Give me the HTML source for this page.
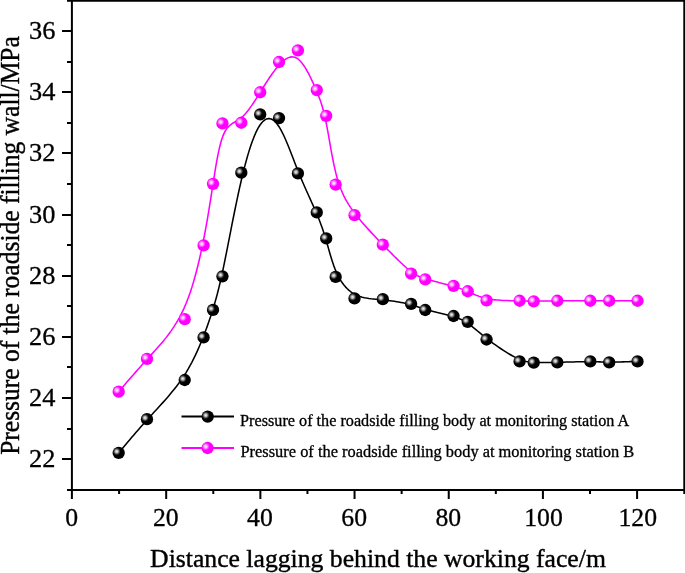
<!DOCTYPE html>
<html><head><meta charset="utf-8"><title>chart</title><style>html,body{margin:0;padding:0;background:#fff}body{width:685px;height:573px;position:relative;overflow:hidden}</style></head><body>
<svg width="685" height="573" viewBox="0 0 685 573" style="position:absolute;left:0;top:0">
<defs>
<radialGradient id="gk" cx="0.34" cy="0.39" r="0.31" fx="0.34" fy="0.39">
<stop offset="0" stop-color="#f4f4f4"/><stop offset="0.35" stop-color="#bcbcbc"/><stop offset="0.7" stop-color="#484848"/><stop offset="1" stop-color="#000"/>
</radialGradient>
<radialGradient id="gm" cx="0.35" cy="0.38" r="0.31" fx="0.35" fy="0.38">
<stop offset="0" stop-color="#fff6ff"/><stop offset="0.35" stop-color="#ffc0ff"/><stop offset="0.7" stop-color="#ff50ff"/><stop offset="1" stop-color="#ff00ff"/>
</radialGradient>
</defs>
<g stroke="#000" stroke-width="2" fill="none" stroke-linecap="butt">
<path d="M67 0.75 H685 M684.3 0 V494 M67 490.0 H685 M71.9 0 V499"/>
<path d="M62 459.00 H72 M67 429.00 H72 M62 398.00 H72 M67 367.00 H72 M62 337.00 H72 M67 306.00 H72 M62 276.00 H72 M67 245.00 H72 M62 215.00 H72 M67 184.00 H72 M62 153.00 H72 M67 123.00 H72 M62 92.00 H72 M67 62.00 H72 M62 31.00 H72 M119.09 490.0 V494 M166.18 490.0 V499 M213.28 490.0 V494 M260.37 490.0 V499 M307.46 490.0 V494 M354.55 490.0 V499 M401.64 490.0 V494 M448.74 490.0 V499 M495.83 490.0 V494 M542.92 490.0 V499 M590.01 490.0 V494 M637.10 490.0 V499 "/>
</g>
<g font-family="'Liberation Serif', serif" font-size="26.4" fill="#000" stroke="#000" stroke-width="0.4">
<text transform="translate(55.4 466.85) scale(1.043 1)" text-anchor="end" font-size="25.3" stroke-width="0.3">22</text>
<text transform="translate(55.4 405.85) scale(1.043 1)" text-anchor="end" font-size="25.3" stroke-width="0.3">24</text>
<text transform="translate(55.4 344.85) scale(1.043 1)" text-anchor="end" font-size="25.3" stroke-width="0.3">26</text>
<text transform="translate(55.4 283.85) scale(1.043 1)" text-anchor="end" font-size="25.3" stroke-width="0.3">28</text>
<text transform="translate(55.4 222.85) scale(1.043 1)" text-anchor="end" font-size="25.3" stroke-width="0.3">30</text>
<text transform="translate(55.4 160.85) scale(1.043 1)" text-anchor="end" font-size="25.3" stroke-width="0.3">32</text>
<text transform="translate(55.4 99.85) scale(1.043 1)" text-anchor="end" font-size="25.3" stroke-width="0.3">34</text>
<text transform="translate(55.4 38.85) scale(1.043 1)" text-anchor="end" font-size="25.3" stroke-width="0.3">36</text>
<text transform="translate(71.60 526.2) scale(0.99 1)" text-anchor="middle" font-size="26" stroke-width="0.3">0</text>
<text transform="translate(165.78 526.2) scale(0.99 1)" text-anchor="middle" font-size="26" stroke-width="0.3">20</text>
<text transform="translate(259.97 526.2) scale(0.99 1)" text-anchor="middle" font-size="26" stroke-width="0.3">40</text>
<text transform="translate(354.15 526.2) scale(0.99 1)" text-anchor="middle" font-size="26" stroke-width="0.3">60</text>
<text transform="translate(448.34 526.2) scale(0.99 1)" text-anchor="middle" font-size="26" stroke-width="0.3">80</text>
<text transform="translate(543.52 526.2) scale(0.99 1)" text-anchor="middle" font-size="26" stroke-width="0.3">100</text>
<text transform="translate(637.70 526.2) scale(0.99 1)" text-anchor="middle" font-size="26" stroke-width="0.3">120</text>
<text x="378" y="567.3" text-anchor="middle" font-size="25.7">Distance lagging behind the working face/m</text>
<text transform="translate(19.3 245.5) rotate(-90) scale(0.9385 1)" text-anchor="middle" font-size="27.2">Pressure of the roadside filling wall/MPa</text>
</g>
<path d="M118.69 391.65 L118.69 391.64 L118.71 391.62 L118.77 391.56 L118.87 391.44 L119.03 391.25 L119.28 390.96 L119.63 390.56 L120.09 390.02 L120.68 389.34 L121.42 388.48 L122.32 387.43 L123.41 386.17 L124.68 384.70 L126.15 383.00 L127.78 381.11 L129.58 379.04 L131.53 376.80 L133.63 374.41 L135.85 371.87 L138.20 369.22 L140.65 366.46 L143.21 363.60 L145.85 360.67 L148.56 357.68 L151.34 354.63 L154.17 351.52 L157.04 348.32 L159.92 345.04 L162.80 341.64 L165.66 338.12 L168.49 334.45 L171.27 330.63 L173.99 326.63 L176.62 322.45 L179.16 318.05 L181.58 313.44 L183.87 308.60 L186.04 303.54 L188.09 298.31 L190.02 292.91 L191.85 287.39 L193.57 281.77 L195.19 276.07 L196.72 270.32 L198.16 264.55 L199.52 258.78 L200.80 253.05 L202.02 247.37 L203.16 241.78 L204.25 236.26 L205.28 230.82 L206.27 225.45 L207.21 220.13 L208.11 214.87 L208.98 209.65 L209.82 204.48 L210.64 199.33 L211.44 194.22 L212.23 189.12 L213.02 184.04 L213.81 178.97 L214.60 173.94 L215.40 168.99 L216.22 164.14 L217.07 159.44 L217.93 154.92 L218.84 150.60 L219.78 146.53 L220.76 142.74 L221.79 139.27 L222.88 136.14 L224.03 133.39 L225.24 131.04 L226.51 129.05 L227.83 127.38 L229.21 125.96 L230.63 124.76 L232.08 123.70 L233.57 122.76 L235.09 121.86 L236.63 120.97 L238.18 120.02 L239.75 118.97 L241.32 117.77 L242.89 116.37 L244.46 114.78 L246.04 113.02 L247.61 111.10 L249.18 109.05 L250.75 106.88 L252.33 104.60 L253.90 102.24 L255.47 99.81 L257.04 97.33 L258.61 94.82 L260.19 92.29 L261.76 89.76 L263.33 87.25 L264.90 84.76 L266.47 82.29 L268.05 79.88 L269.62 77.52 L271.19 75.22 L272.76 73.00 L274.34 70.87 L275.91 68.83 L277.48 66.91 L279.05 65.10 L280.62 63.42 L282.20 61.89 L283.77 60.53 L285.34 59.35 L286.91 58.38 L288.49 57.63 L290.06 57.13 L291.63 56.89 L293.20 56.93 L294.77 57.27 L296.35 57.93 L297.92 58.92 L299.49 60.27 L301.06 61.93 L302.61 63.87 L304.15 66.06 L305.67 68.45 L307.15 71.01 L308.61 73.70 L310.03 76.48 L311.40 79.31 L312.73 82.16 L314.00 84.99 L315.21 87.76 L316.36 90.44 L317.45 93.06 L318.48 95.65 L319.46 98.24 L320.40 100.86 L321.30 103.55 L322.17 106.34 L323.01 109.27 L323.83 112.36 L324.64 115.65 L325.43 119.18 L326.22 122.97 L327.00 127.05 L327.80 131.38 L328.60 135.91 L329.42 140.61 L330.26 145.41 L331.13 150.28 L332.03 155.17 L332.97 160.02 L333.95 164.80 L334.99 169.45 L336.07 173.94 L337.22 178.20 L338.43 182.21 L339.71 185.98 L341.05 189.52 L342.46 192.87 L343.94 196.03 L345.48 199.04 L347.08 201.91 L348.75 204.66 L350.49 207.33 L352.29 209.92 L354.16 212.46 L356.09 214.97 L358.08 217.48 L360.14 219.97 L362.25 222.46 L364.41 224.94 L366.62 227.42 L368.86 229.89 L371.14 232.35 L373.44 234.81 L375.76 237.27 L378.11 239.71 L380.46 242.15 L382.81 244.59 L385.17 247.02 L387.52 249.43 L389.85 251.82 L392.16 254.15 L394.44 256.44 L396.67 258.65 L398.85 260.78 L400.98 262.81 L403.04 264.74 L405.03 266.54 L406.94 268.22 L408.76 269.74 L410.48 271.11 L412.12 272.33 L413.69 273.42 L415.22 274.40 L416.71 275.26 L418.19 276.04 L419.66 276.73 L421.16 277.37 L422.68 277.95 L424.26 278.49 L425.90 279.02 L427.62 279.53 L429.44 280.04 L431.33 280.56 L433.30 281.08 L435.31 281.60 L437.35 282.12 L439.41 282.63 L441.47 283.15 L443.52 283.67 L445.53 284.18 L447.49 284.69 L449.39 285.19 L451.20 285.68 L452.92 286.17 L454.56 286.66 L456.12 287.14 L457.61 287.63 L459.05 288.12 L460.44 288.62 L461.80 289.12 L463.14 289.64 L464.47 290.17 L465.80 290.72 L467.14 291.30 L468.50 291.89 L469.89 292.51 L471.32 293.15 L472.80 293.80 L474.32 294.45 L475.90 295.10 L477.54 295.74 L479.24 296.37 L481.02 296.96 L482.87 297.53 L484.80 298.05 L486.82 298.53 L488.94 298.96 L491.14 299.32 L493.43 299.63 L495.78 299.89 L498.16 300.10 L500.57 300.27 L502.99 300.41 L505.38 300.51 L507.74 300.60 L510.05 300.66 L512.28 300.71 L514.42 300.75 L516.45 300.79 L518.35 300.82 L520.14 300.86 L521.83 300.90 L523.44 300.94 L524.98 300.98 L526.47 301.02 L527.93 301.05 L529.37 301.08 L530.82 301.10 L532.28 301.12 L533.77 301.13 L535.31 301.14 L536.92 301.13 L538.59 301.12 L540.33 301.10 L542.13 301.08 L543.99 301.05 L545.93 301.02 L547.92 300.99 L549.99 300.96 L552.12 300.93 L554.31 300.89 L556.57 300.86 L558.90 300.84 L561.28 300.81 L563.73 300.79 L566.20 300.78 L568.71 300.77 L571.22 300.76 L573.73 300.75 L576.23 300.74 L578.69 300.74 L581.12 300.74 L583.48 300.74 L585.77 300.74 L587.98 300.74 L590.10 300.74 L592.13 300.74 L594.09 300.74 L595.99 300.74 L597.85 300.74 L599.67 300.74 L601.49 300.74 L603.30 300.74 L605.12 300.74 L606.96 300.74 L608.84 300.74 L610.78 300.74 L612.77 300.74 L614.81 300.74 L616.87 300.74 L618.93 300.74 L620.97 300.74 L622.96 300.74 L624.89 300.74 L626.73 300.74 L628.46 300.74 L630.07 300.74 L631.51 300.74 L632.79 300.74 L633.87 300.74 L634.77 300.74 L635.51 300.74 L636.11 300.74 L636.57 300.74 L636.91 300.74 L637.16 300.74 L637.33 300.74 L637.43 300.74 L637.48 300.74 L637.50 300.74 L637.50 300.74" fill="none" stroke="#ff00ff" stroke-width="1.55" stroke-linejoin="round"/>
<circle cx="118.69" cy="391.65" r="6.15" fill="url(#gm)"/>
<circle cx="146.99" cy="358.82" r="6.15" fill="url(#gm)"/>
<circle cx="184.72" cy="319.13" r="6.15" fill="url(#gm)"/>
<circle cx="203.59" cy="245.31" r="6.15" fill="url(#gm)"/>
<circle cx="213.02" cy="183.87" r="6.15" fill="url(#gm)"/>
<circle cx="222.45" cy="123.43" r="6.15" fill="url(#gm)"/>
<circle cx="241.32" cy="122.73" r="6.15" fill="url(#gm)"/>
<circle cx="260.19" cy="92.26" r="6.15" fill="url(#gm)"/>
<circle cx="279.05" cy="61.99" r="6.15" fill="url(#gm)"/>
<circle cx="297.92" cy="50.36" r="6.15" fill="url(#gm)"/>
<circle cx="316.78" cy="90.10" r="6.15" fill="url(#gm)"/>
<circle cx="326.22" cy="115.79" r="6.15" fill="url(#gm)"/>
<circle cx="335.65" cy="184.57" r="6.15" fill="url(#gm)"/>
<circle cx="354.52" cy="215.14" r="6.15" fill="url(#gm)"/>
<circle cx="382.81" cy="244.71" r="6.15" fill="url(#gm)"/>
<circle cx="411.11" cy="273.57" r="6.15" fill="url(#gm)"/>
<circle cx="425.26" cy="279.44" r="6.15" fill="url(#gm)"/>
<circle cx="453.56" cy="285.85" r="6.15" fill="url(#gm)"/>
<circle cx="467.71" cy="291.27" r="6.15" fill="url(#gm)"/>
<circle cx="486.58" cy="300.44" r="6.15" fill="url(#gm)"/>
<circle cx="519.59" cy="300.74" r="6.15" fill="url(#gm)"/>
<circle cx="533.74" cy="301.34" r="6.15" fill="url(#gm)"/>
<circle cx="557.32" cy="300.74" r="6.15" fill="url(#gm)"/>
<circle cx="590.34" cy="300.74" r="6.15" fill="url(#gm)"/>
<circle cx="609.21" cy="300.74" r="6.15" fill="url(#gm)"/>
<circle cx="637.50" cy="300.74" r="6.15" fill="url(#gm)"/>

<path d="M118.69 452.79 L118.69 452.78 L118.71 452.76 L118.77 452.70 L118.87 452.58 L119.03 452.38 L119.28 452.09 L119.63 451.67 L120.09 451.13 L120.68 450.42 L121.42 449.54 L122.32 448.47 L123.41 447.18 L124.68 445.67 L126.15 443.93 L127.78 442.00 L129.58 439.88 L131.53 437.60 L133.63 435.16 L135.85 432.58 L138.20 429.89 L140.65 427.09 L143.21 424.21 L145.85 421.25 L148.56 418.24 L151.34 415.19 L154.17 412.10 L157.04 408.98 L159.92 405.82 L162.80 402.63 L165.66 399.40 L168.49 396.15 L171.27 392.86 L173.99 389.55 L176.62 386.20 L179.16 382.84 L181.58 379.44 L183.87 376.03 L186.04 372.60 L188.09 369.16 L190.02 365.74 L191.85 362.34 L193.57 358.96 L195.19 355.63 L196.72 352.34 L198.16 349.12 L199.52 345.97 L200.80 342.91 L202.02 339.93 L203.16 337.06 L204.25 334.28 L205.28 331.59 L206.27 328.96 L207.21 326.38 L208.11 323.85 L208.98 321.35 L209.82 318.87 L210.64 316.39 L211.44 313.91 L212.23 311.42 L213.02 308.89 L213.81 306.31 L214.60 303.66 L215.40 300.89 L216.22 297.96 L217.07 294.85 L217.93 291.51 L218.84 287.90 L219.78 283.99 L220.76 279.75 L221.79 275.13 L222.88 270.09 L224.03 264.61 L225.24 258.66 L226.51 252.29 L227.83 245.57 L229.21 238.56 L230.63 231.33 L232.08 223.95 L233.57 216.48 L235.09 209.00 L236.63 201.56 L238.18 194.24 L239.75 187.10 L241.32 180.21 L242.89 173.62 L244.46 167.36 L246.04 161.44 L247.61 155.86 L249.18 150.63 L250.75 145.76 L252.33 141.27 L253.90 137.16 L255.47 133.44 L257.04 130.12 L258.61 127.22 L260.19 124.73 L261.76 122.67 L263.33 121.04 L264.90 119.83 L266.47 119.02 L268.05 118.63 L269.62 118.63 L271.19 119.03 L272.76 119.81 L274.34 120.98 L275.91 122.52 L277.48 124.44 L279.05 126.72 L280.62 129.35 L282.20 132.30 L283.77 135.53 L285.34 139.01 L286.91 142.68 L288.49 146.51 L290.06 150.47 L291.63 154.51 L293.20 158.59 L294.77 162.68 L296.35 166.73 L297.92 170.71 L299.49 174.58 L301.06 178.34 L302.61 181.99 L304.15 185.53 L305.67 188.97 L307.15 192.30 L308.61 195.53 L310.03 198.67 L311.40 201.70 L312.73 204.64 L314.00 207.49 L315.21 210.24 L316.36 212.91 L317.45 215.50 L318.48 218.03 L319.46 220.52 L320.40 222.97 L321.30 225.41 L322.17 227.85 L323.01 230.30 L323.83 232.78 L324.64 235.30 L325.43 237.88 L326.22 240.52 L327.00 243.25 L327.80 246.05 L328.60 248.89 L329.42 251.78 L330.26 254.68 L331.13 257.58 L332.03 260.46 L332.97 263.32 L333.95 266.12 L334.99 268.86 L336.07 271.51 L337.22 274.06 L338.43 276.50 L339.71 278.82 L341.05 281.01 L342.46 283.08 L343.94 285.03 L345.48 286.85 L347.08 288.53 L348.75 290.09 L350.49 291.51 L352.29 292.79 L354.16 293.93 L356.09 294.93 L358.08 295.79 L360.14 296.53 L362.25 297.14 L364.41 297.66 L366.62 298.09 L368.86 298.44 L371.14 298.74 L373.44 298.99 L375.76 299.22 L378.11 299.43 L380.46 299.63 L382.81 299.85 L385.17 300.09 L387.52 300.36 L389.85 300.65 L392.16 300.97 L394.44 301.30 L396.67 301.66 L398.85 302.03 L400.98 302.43 L403.04 302.83 L405.03 303.25 L406.94 303.69 L408.76 304.13 L410.48 304.59 L412.12 305.05 L413.69 305.52 L415.22 306.00 L416.71 306.49 L418.19 306.98 L419.66 307.47 L421.16 307.97 L422.68 308.48 L424.26 308.98 L425.90 309.48 L427.62 309.99 L429.44 310.50 L431.33 311.00 L433.30 311.50 L435.31 312.01 L437.35 312.51 L439.41 313.01 L441.47 313.51 L443.52 314.01 L445.53 314.50 L447.49 315.00 L449.39 315.49 L451.20 315.99 L452.92 316.48 L454.56 316.98 L456.12 317.49 L457.61 318.02 L459.05 318.58 L460.44 319.17 L461.80 319.80 L463.14 320.48 L464.47 321.21 L465.80 322.01 L467.14 322.87 L468.50 323.81 L469.89 324.82 L471.32 325.92 L472.80 327.09 L474.32 328.33 L475.90 329.63 L477.54 330.99 L479.24 332.41 L481.02 333.88 L482.87 335.40 L484.80 336.96 L486.82 338.55 L488.94 340.19 L491.14 341.85 L493.43 343.52 L495.78 345.20 L498.16 346.86 L500.57 348.49 L502.99 350.09 L505.38 351.62 L507.74 353.09 L510.05 354.47 L512.28 355.75 L514.42 356.91 L516.45 357.95 L518.35 358.85 L520.14 359.61 L521.83 360.26 L523.44 360.79 L524.98 361.23 L526.47 361.58 L527.93 361.85 L529.37 362.05 L530.82 362.20 L532.28 362.31 L533.77 362.38 L535.31 362.43 L536.92 362.46 L538.59 362.49 L540.33 362.50 L542.13 362.51 L543.99 362.50 L545.93 362.49 L547.92 362.47 L549.99 362.44 L552.12 362.41 L554.31 362.36 L556.57 362.32 L558.90 362.26 L561.28 362.21 L563.73 362.15 L566.20 362.08 L568.71 362.02 L571.22 361.96 L573.73 361.90 L576.23 361.85 L578.69 361.80 L581.12 361.76 L583.48 361.74 L585.77 361.72 L587.98 361.71 L590.10 361.72 L592.13 361.73 L594.09 361.76 L595.99 361.80 L597.85 361.83 L599.67 361.88 L601.49 361.92 L603.30 361.96 L605.12 361.99 L606.96 362.02 L608.84 362.04 L610.78 362.04 L612.77 362.04 L614.81 362.02 L616.87 361.99 L618.93 361.95 L620.97 361.91 L622.96 361.86 L624.89 361.80 L626.73 361.75 L628.46 361.69 L630.07 361.64 L631.51 361.59 L632.79 361.54 L633.87 361.50 L634.77 361.47 L635.51 361.45 L636.11 361.43 L636.57 361.41 L636.91 361.40 L637.16 361.39 L637.33 361.38 L637.43 361.38 L637.48 361.38 L637.50 361.38 L637.50 361.38" fill="none" stroke="#000" stroke-width="1.55" stroke-linejoin="round"/>
<circle cx="118.69" cy="452.79" r="6.15" fill="url(#gk)"/>
<circle cx="146.99" cy="419.16" r="6.15" fill="url(#gk)"/>
<circle cx="184.72" cy="380.02" r="6.15" fill="url(#gk)"/>
<circle cx="203.59" cy="337.42" r="6.15" fill="url(#gk)"/>
<circle cx="213.02" cy="309.91" r="6.15" fill="url(#gk)"/>
<circle cx="222.45" cy="276.28" r="6.15" fill="url(#gk)"/>
<circle cx="241.32" cy="172.64" r="6.15" fill="url(#gk)"/>
<circle cx="260.19" cy="114.41" r="6.15" fill="url(#gk)"/>
<circle cx="279.05" cy="118.12" r="6.15" fill="url(#gk)"/>
<circle cx="297.92" cy="173.44" r="6.15" fill="url(#gk)"/>
<circle cx="316.78" cy="212.38" r="6.15" fill="url(#gk)"/>
<circle cx="326.22" cy="238.47" r="6.15" fill="url(#gk)"/>
<circle cx="335.65" cy="276.88" r="6.15" fill="url(#gk)"/>
<circle cx="354.52" cy="298.38" r="6.15" fill="url(#gk)"/>
<circle cx="382.81" cy="299.21" r="6.15" fill="url(#gk)"/>
<circle cx="411.11" cy="303.89" r="6.15" fill="url(#gk)"/>
<circle cx="425.26" cy="310.01" r="6.15" fill="url(#gk)"/>
<circle cx="453.56" cy="316.02" r="6.15" fill="url(#gk)"/>
<circle cx="467.71" cy="321.84" r="6.15" fill="url(#gk)"/>
<circle cx="486.58" cy="339.48" r="6.15" fill="url(#gk)"/>
<circle cx="519.59" cy="361.38" r="6.15" fill="url(#gk)"/>
<circle cx="533.74" cy="362.70" r="6.15" fill="url(#gk)"/>
<circle cx="557.32" cy="362.38" r="6.15" fill="url(#gk)"/>
<circle cx="590.34" cy="361.38" r="6.15" fill="url(#gk)"/>
<circle cx="609.21" cy="362.38" r="6.15" fill="url(#gk)"/>
<circle cx="637.50" cy="361.38" r="6.15" fill="url(#gk)"/>

<path d="M181.5 416.6 H234" stroke="#000" stroke-width="2"/><circle cx="207.7" cy="416.6" r="6.15" fill="url(#gk)"/>
<path d="M181.5 448 H234" stroke="#ff00ff" stroke-width="2"/><circle cx="207.6" cy="448" r="6.15" fill="url(#gm)"/>
<g font-family="'Liberation Serif', serif" font-size="15.8" fill="#000" stroke="#000" stroke-width="0.3">
<text transform="translate(240.1 425.7) scale(1.0253 1)">Pressure of the roadside filling body at monitoring station A</text>
<text transform="translate(240.5 456.9) scale(1.038 1)">Pressure of the roadside filling body at monitoring station B</text>
</g>
</svg>
</body></html>
